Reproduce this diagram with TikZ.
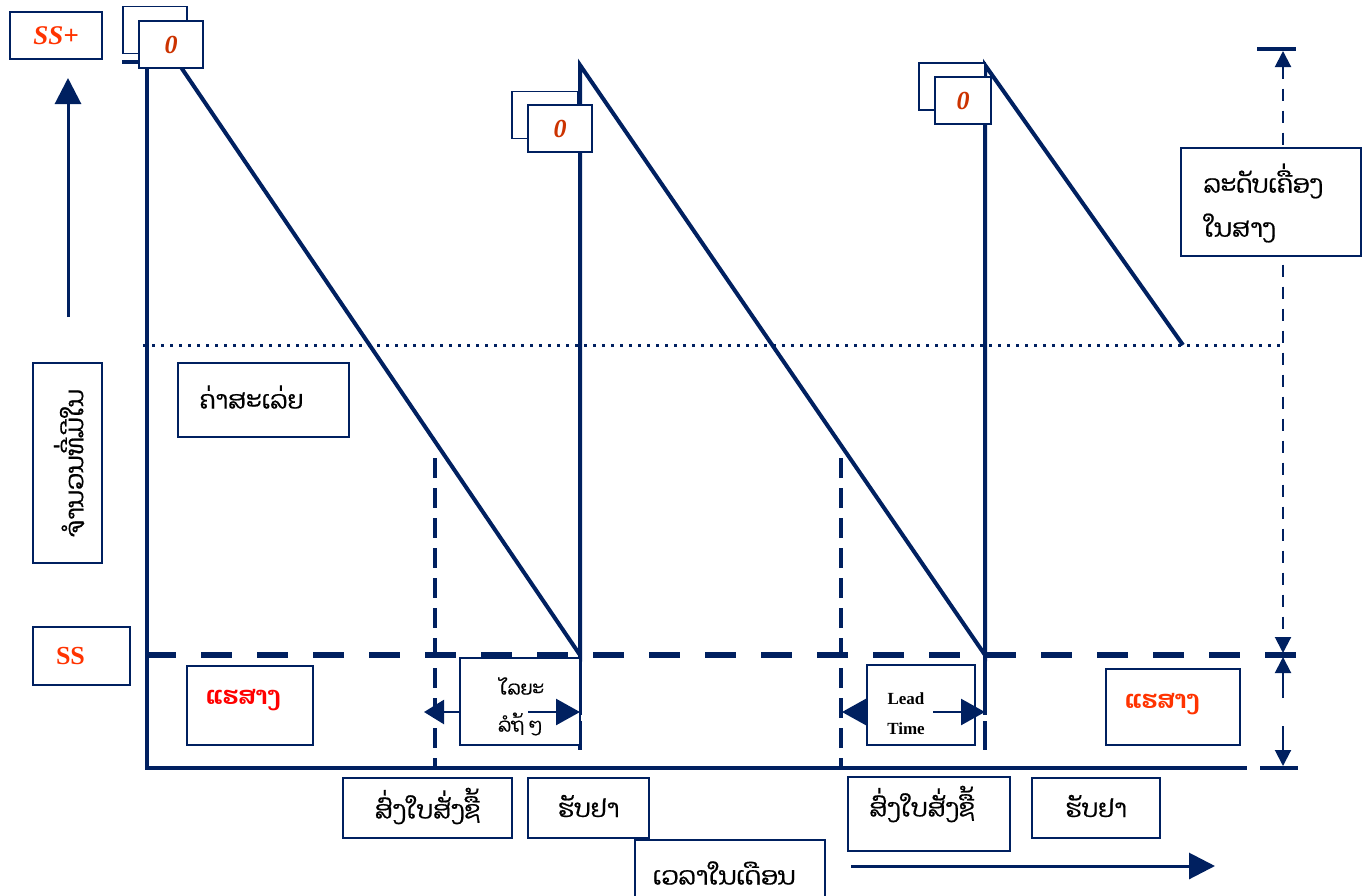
\documentclass[tikz,border=0pt]{standalone}
\usepackage{fontspec}
\setmainfont{Liberation Serif}
\newfontfamily\laofont[Script=Lao,FakeBold=0.7]{Dhyana}
\newfontfamily\laobold[Script=Lao]{Dhyana}
\usetikzlibrary{arrows.meta}
\definecolor{navy}{HTML}{002060}
\definecolor{ored}{HTML}{FF3300}
\definecolor{zred}{HTML}{CC3300}
\definecolor{pred}{HTML}{FF0000}
\tikzset{
  box/.style={draw=navy,line width=1.6pt,fill=white,rectangle,inner sep=0pt},
  laotxt/.style={font=\laofont\fontsize{25}{30}\selectfont,text=black},
  redlao/.style={font=\laobold\bfseries\fontsize{25}{30}\selectfont},
  zerobox/.style={box,minimum width=64,minimum height=47,font=\bfseries\itshape\fontsize{26}{30}\selectfont,text=zred},
  mainline/.style={draw=navy,line width=4.5pt},
  vdash/.style={draw=navy,line width=4pt,dash pattern=on 20pt off 10pt},
}
\begin{document}
\begin{tikzpicture}[x=1pt,y=-1pt]
\useasboundingbox (0,0) rectangle (1369,895);
% coordinates
\coordinate (o) at (147,768);
\coordinate (ytop) at (147,62);
\coordinate (yl) at (122,62);
\coordinate (xend) at (1247,768);
\coordinate (t1) at (172,54);
\coordinate (b1) at (580,655);
\coordinate (t2) at (580,65);
\coordinate (b2) at (985,655);
\coordinate (t3) at (985,65);
\coordinate (e3) at (1183,345);
% axes
\draw[mainline] (yl) -- (ytop) -- (o) -- (xend);
% sawtooth
\draw[draw=navy,line width=4pt,line join=miter] (t1) -- (b1) -- (t2) -- (b2) -- (t3) -- (e3);
% average dotted line
\draw[draw=navy,line width=3pt,dash pattern=on 3pt off 6pt] (143,345) -- (1283,345);
% safety stock dashed line
\draw[draw=navy,line width=6pt,dash pattern=on 31pt off 25pt] (145,655) -- (1298,655);
% vertical dashed lines
\draw[vdash] (435,458) -- (435,768);
\draw[vdash] (841,458) -- (841,768);
\draw[draw=navy,line width=4pt,dash pattern=on 60pt off 6pt] (b1) -- (580,750);
\draw[draw=navy,line width=4pt,dash pattern=on 60pt off 6pt] (b2) -- (985,750);
% right dimension
\draw[draw=navy,line width=4pt] (1257,49) -- (1296,49);
\draw[draw=navy,line width=4pt] (1260,768) -- (1298,768);
\draw[draw=navy,line width=2pt,dash pattern=on 12pt off 10pt,{Triangle[length=16pt,width=16pt]}-{Triangle[length=16pt,width=16pt]}] (1283,51) -- (1283,653);
\draw[draw=navy,line width=2pt,-{Triangle[length=16pt,width=16pt]}] (1283,698) -- (1283,657);
\draw[draw=navy,line width=2pt,-{Triangle[length=16pt,width=16pt]}] (1283,726) -- (1283,766);
% left up arrow
\draw[draw=navy,line width=3pt,-{Triangle[length=26pt,width=26pt]}] (68,317) -- (68,78);
% bottom time arrow
\draw[draw=navy,line width=3pt,-{Triangle[length=26pt,width=26pt]}] (851,866) -- (1215,866);

% zero boxes
\node[zerobox,minimum width=64] (z1b) at (155,30) {};
\node[zerobox] (z1) at (171,44.5) {\raisebox{-3pt}{0}};
\node[zerobox,minimum width=66] (z2b) at (545,115) {};
\node[zerobox] (z2) at (560,128.5) {\raisebox{-3pt}{0}};
\node[zerobox,minimum width=66] (z3b) at (952,86.5) {};
\node[zerobox,minimum width=56] (z3) at (963,100.5) {\raisebox{-3pt}{0}};

% labels
\node[box,minimum width=92,minimum height=47,text=ored,font=\bfseries\itshape\fontsize{27}{30}\selectfont] (ssp) at (56,35.5) {\raisebox{-4pt}{SS+}};
\node[box,minimum width=69,minimum height=200] (ylab) at (67.5,463) {};
\node[laotxt,rotate=90] at (69,463) {ຈຳນວນທີ່ມີໃນ};
\node[box,minimum width=171,minimum height=74] (mean) at (263.5,400) {};
\node[laotxt,anchor=west] at (196,397) {ຄ່າສະເລ່ຍ};
\node[box,minimum width=97,minimum height=58,text=ored,font=\bfseries\fontsize{26}{30}\selectfont] (ss) at (81.5,656) {\hspace*{-22pt}SS};
\node[box,minimum width=126,minimum height=79] (hs1) at (250,705.5) {};
\node[redlao,text=pred] at (243,700) {ແຮສາງ};
\node[box,minimum width=134,minimum height=76] (hs2) at (1173,707) {};
\node[redlao,text=ored] at (1162,704) {ແຮສາງ};

% wait time box
\node[box,minimum width=120,minimum height=87] (wait) at (520,701.5) {};
\node[laotxt,font=\laofont\fontsize{19}{22}\selectfont] at (522,686) {ໄລຍະ};
\node[laotxt,font=\laofont\fontsize{19}{22}\selectfont] at (520,724) {ລໍຖ້ ໆ};
\draw[draw=navy,line width=2.5pt,-{Triangle[length=20pt,width=24pt]}] (wait.west |- 0,712) -- (424,712);
\draw[draw=navy,line width=2.5pt,-{Triangle[length=24pt,width=26pt]}] (528,712) -- (580,712);

% lead time box
\node[box,minimum width=108,minimum height=80] (lead) at (921,705) {};
\node[font=\bfseries\fontsize{17}{20}\selectfont] at (906,699) {Lead};
\node[font=\bfseries\fontsize{17}{20}\selectfont] at (906,729) {Time};
\draw[draw=navy,line width=2.5pt,-{Triangle[length=24pt,width=26pt]}] (lead.west |- 0,712) -- (842,712);
\draw[draw=navy,line width=2.5pt,-{Triangle[length=24pt,width=26pt]}] (933,712) -- (985,712);

% bottom boxes
\node[box,minimum width=169,minimum height=60] (ord1) at (427.5,808) {};
\node[laotxt] at (427.5,806) {ສົ່ງໃບສັ່ງຊື້};
\node[box,minimum width=121,minimum height=60] (rec1) at (588.5,808) {};
\node[laotxt] at (588.5,806) {ຮັບຢາ};
\node[box,minimum width=190,minimum height=70] (time) at (730,875) {};
\node[laotxt] at (724,873) {ເວລາໃນເດືອນ};
\node[box,minimum width=162,minimum height=74] (ord2) at (929,814) {};
\node[laotxt] at (922,804) {ສົ່ງໃບສັ່ງຊື້};
\node[box,minimum width=128,minimum height=60] (rec2) at (1096,808) {};
\node[laotxt] at (1096,806) {ຮັບຢາ};

% level box
\node[box,minimum width=180,minimum height=108] (lvl) at (1271,202) {};
\node[laotxt,anchor=west] at (1200,181) {ລະດັບເຄື່ອງ};
\node[laotxt,anchor=west] at (1200,228) {ໃນສາງ};
\end{tikzpicture}
\end{document}
